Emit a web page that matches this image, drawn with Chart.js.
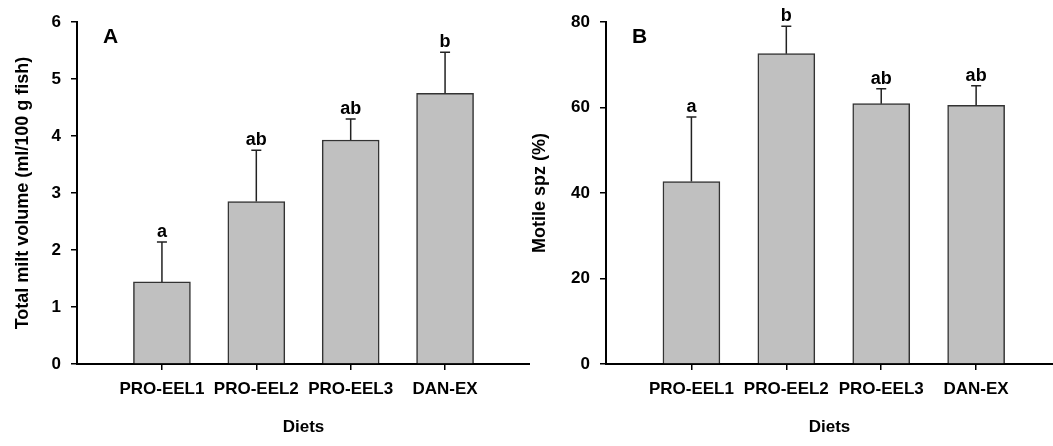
<!DOCTYPE html>
<html>
<head>
<meta charset="utf-8">
<script src="https://cdn.jsdelivr.net/npm/chart.js@4.4.0/dist/chart.umd.min.js"></script>
<style>
  html, body { margin: 0; padding: 0; background: #fff; overflow: hidden; }
  .panel { position: absolute; top: 0; height: 446px; }
  #panelA { left: 0; width: 530px; }
  #panelB { left: 520px; width: 533px; }
</style>
</head>
<body>
<div class="panel" id="panelA"><canvas id="chartA"></canvas></div>
<div class="panel" id="panelB"><canvas id="chartB"></canvas></div>
<script>
// categories
const diets = ['PRO-EEL1', 'PRO-EEL2', 'PRO-EEL3', 'DAN-EX'];

// panel A - total milt volume
const miltVolume = [1.44, 2.85, 3.93, 4.75];
const miltError = [0.70, 0.90, 0.37, 0.72];
const miltLetters = ['a', 'ab', 'ab', 'b'];
const miltTicks = [0, 1, 2, 3, 4, 5, 6];

// panel B - motile spermatozoa
const motileSpz = [42.7, 72.6, 60.9, 60.5];
const motileError = [15.1, 6.4, 3.5, 4.6];
const motileLetters = ['a', 'b', 'ab', 'ab'];
const motileTicks = [0, 20, 40, 60, 80];

const FONT = "'Liberation Sans', Arial, Helvetica, sans-serif";

// error bars + significance letters + panel letter
const errorBarPlugin = {
  id: 'errorBars',
  afterDatasetsDraw(chart, args, opts) {
    const ctx = chart.ctx;
    const xs = chart.scales.x;
    const ys = chart.scales.y;
    ctx.save();
    ctx.strokeStyle = '#222';
    ctx.lineWidth = 1.5;
    ctx.fillStyle = '#000';
    ctx.font = 'bold 18px ' + FONT;
    ctx.textAlign = 'center';
    ctx.textBaseline = 'alphabetic';
    opts.values.forEach((v, i) => {
      const x = xs.getPixelForValue(i);
      const yBar = ys.getPixelForValue(v);
      const yTop = ys.getPixelForValue(v + opts.errors[i]);
      ctx.beginPath();
      ctx.moveTo(x, yBar);
      ctx.lineTo(x, yTop);
      ctx.moveTo(x - 5, yTop);
      ctx.lineTo(x + 5, yTop);
      ctx.stroke();
      ctx.fillText(opts.letters[i], x, yTop - 5);
    });
    const area = chart.chartArea;
    ctx.font = 'bold 21px ' + FONT;
    ctx.textAlign = 'left';
    ctx.textBaseline = 'middle';
    ctx.fillText(opts.panel, area.left + 26, area.top + 15);
    ctx.restore();
  }
};

function makeChart(id, values, errors, letters, ticks, yTitle, panel, yWidth, xMax, titlePad) {
  const ctx = document.getElementById(id).getContext('2d');
  return new Chart(ctx, {
    type: 'bar',
    data: {
      datasets: [{
        data: values.map((v, i) => ({ x: i, y: v })),
        backgroundColor: '#c0c0c0',
        borderColor: '#333',
        borderWidth: 1.5,
        barThickness: 57
      }]
    },
    options: {
      responsive: true,
      maintainAspectRatio: false,
      animation: false,
      layout: { padding: { top: 22, right: 0, left: 0, bottom: 0 } },
      plugins: {
        legend: { display: false },
        tooltip: { enabled: false },
        errorBars: { values: values, errors: errors, letters: letters, panel: panel }
      },
      scales: {
        x: {
          type: 'linear',
          min: -0.9,
          max: xMax,
          offset: false,
          afterBuildTicks: (scale) => { scale.ticks = diets.map((d, i) => ({ value: i })); },
          afterFit: (scale) => { scale.height = 82; },
          ticks: {
            callback: (v) => diets[v],
            color: '#000',
            font: { family: FONT, size: 17, weight: 'bold' },
            padding: 9,
            maxRotation: 0,
            autoSkip: false
          },
          grid: { offset: false, drawOnChartArea: false, tickLength: 6, color: '#000', lineWidth: 1.5 },
          border: { display: true, color: '#000', width: 2 },
          title: {
            display: true,
            text: 'Diets',
            color: '#000',
            font: { family: FONT, size: 17, weight: 'bold' },
            padding: { top: 0, bottom: 8 }
          }
        },
        y: {
          min: ticks[0],
          max: ticks[ticks.length - 1],
          afterBuildTicks: (scale) => { scale.ticks = ticks.map(t => ({ value: t })); },
          afterFit: (scale) => { scale.width = yWidth; },
          ticks: {
            color: '#000',
            font: { family: FONT, size: 17, weight: 'bold' },
            padding: 10
          },
          grid: { drawOnChartArea: false, tickLength: 6, color: '#000', lineWidth: 1.5 },
          border: { display: true, color: '#000', width: 2 },
          title: {
            display: true,
            text: yTitle,
            color: '#000',
            font: { family: FONT, size: 18, weight: 'bold' },
            padding: { top: titlePad, bottom: 0 }
          }
        }
      }
    },
    plugins: [errorBarPlugin]
  });
}

makeChart('chartA', miltVolume, miltError, miltLetters, miltTicks,
  'Total milt volume (ml/100 g fish)', 'A', 77, 3.9, 12);
makeChart('chartB', motileSpz, motileError, motileLetters, motileTicks,
  'Motile spz (%)', 'B', 86, 3.81, 9);
</script>
</body>
</html>
